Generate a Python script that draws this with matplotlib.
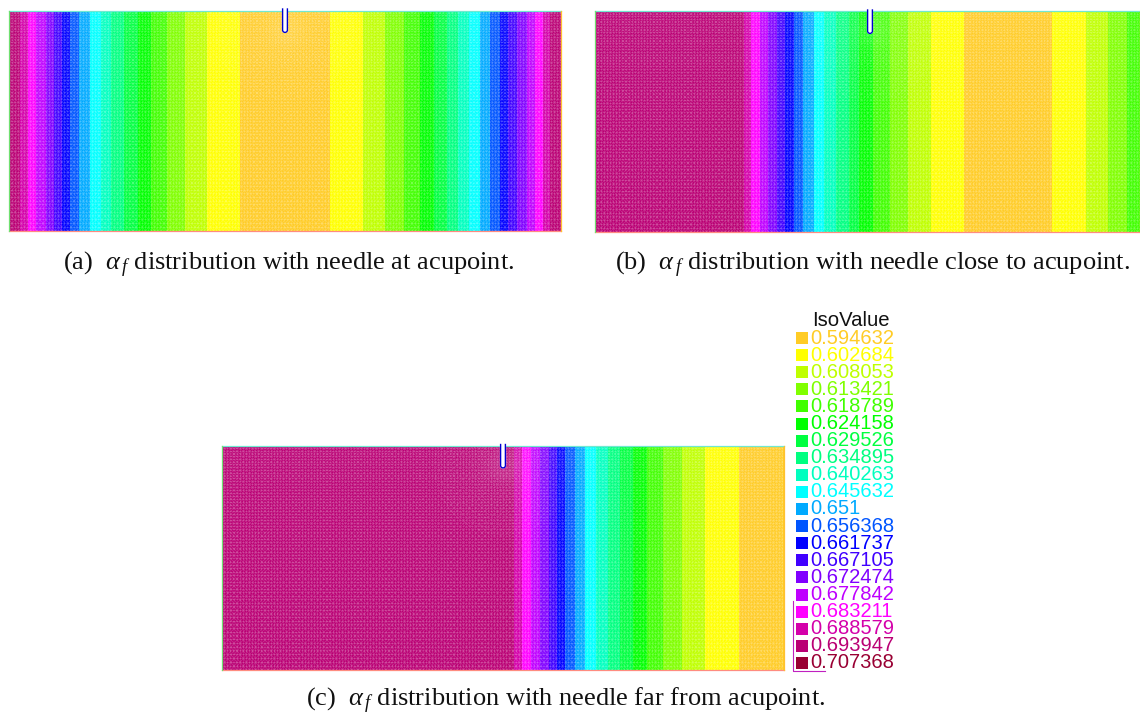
import numpy as np
from matplotlib import pyplot as plt
from matplotlib.colors import ListedColormap
import matplotlib.tri as mtri

plt.rcParams['font.family'] = 'Liberation Sans'
plt.rcParams['mathtext.fontset'] = 'custom'
plt.rcParams['mathtext.rm'] = 'Liberation Serif'
plt.rcParams['mathtext.it'] = 'Liberation Serif:italic'

iso_labels = ['0.594632', '0.602684', '0.608053', '0.613421', '0.618789',
              '0.624158', '0.629526', '0.634895', '0.640263', '0.645632',
              '0.651', '0.656368', '0.661737', '0.667105', '0.672474',
              '0.677842', '0.683211', '0.688579', '0.693947', '0.707368']
iso_colors = ['#ffcc26', '#ffff00', '#bfff00', '#80ff00', '#40ff00',
              '#00ff00', '#00ff40', '#00ff80', '#00ffbf', '#00ffff',
              '#00aaff', '#0055ff', '#0000ff', '#4000ff', '#8000ff',
              '#bf00ff', '#ff00ff', '#d400aa', '#ba0074', '#990033']

# band edges along the domain
edges_a = [9, 20, 28.4, 36.4, 45.5, 53.5, 61.8, 69.8, 79.3, 90.2, 101, 111, 123.6,
           137.5, 151, 166.5, 184.7, 207.3, 240, 329.5, 363, 384.7, 403.6, 420,
           433.5, 446.5, 458, 469, 480, 490, 500, 508.4, 517, 526.5, 534.5,
           542.5, 550, 561]
levels_a = [18, 17, 16, 15, 14, 13, 12, 11, 10, 9, 8, 7, 6, 5, 4, 3, 2, 1, 0,
            1, 2, 3, 4, 5, 6, 7, 8, 9, 10, 11, 12, 13, 14, 15, 16, 17, 18]

edges_b = [595, 744.3, 751.4, 760.2, 768.4, 776.9, 785, 793.8, 803.4, 813.7, 824,
           836.3, 848.7, 859.3, 873.5, 890.1, 908.5, 931.2, 963.8, 1052.3,
           1085.5, 1108.2, 1126.6, 1140]
levels_b = [18, 17, 16, 15, 14, 13, 12, 11, 10, 9, 8, 7, 6, 5, 4, 3, 2, 1, 0,
            1, 2, 3, 4]

edges_c = [221.6, 513.9, 521.6, 531.1, 539.5, 548.7, 556.8, 565.2, 575.1, 585.4,
           596.4, 608.1, 620.2, 633, 647, 663.1, 682.2, 704.9, 738.6, 784.1]
levels_c = [18, 17, 16, 15, 14, 13, 12, 11, 10, 9, 8, 7, 6, 5, 4, 3, 2, 1, 0]

W, H = 1140, 715
fig = plt.figure(figsize=(W / 100, H / 100), dpi=100)
cmap = ListedColormap(iso_colors)


def draw_panel(edges, levels, top, bottom, needle_x):
    x0, x1 = edges[0], edges[-1]
    ax = fig.add_axes([x0 / W, 1 - bottom / H, (x1 - x0) / W, (bottom - top) / H])
    ax.pcolormesh(edges, [top, bottom], np.array([levels]), cmap=cmap, vmin=-0.5, vmax=19.5)

    # the mesh over the field, cells grow towards the bottom
    steps = np.linspace(2.6, 3.8, 69)
    rows = top + np.r_[0, np.cumsum(steps)] * (bottom - top) / steps.sum()
    xs, ys = np.meshgrid(np.arange(x0, x1 + 1, 3.1), rows)
    tri = mtri.Triangulation(xs.ravel(), ys.ravel())
    ax.triplot(tri, color='white', lw=0.3, alpha=0.3)

    # refined fan of elements round the needle tip
    rx, ry = [], []
    r = 2.5
    while r < 70:
        n = max(int(2 * np.pi * r / (r * 0.1 + 0.9)), 3)
        th = np.linspace(0, 2 * np.pi, n, endpoint=False)
        rx.extend(needle_x + r * np.cos(th))
        ry.extend(top + 20 + r * np.sin(th))
        r *= 1.08
    ax.triplot(mtri.Triangulation(rx, ry), color='white', lw=0.22, alpha=0.12)

    ax.set_xlim(x0, x1)
    ax.set_ylim(bottom, top)
    ax.axis('off')

    # border
    ax.plot([x0, x1], [top, top], color='#70e8d0', lw=0.9, clip_on=False)
    ax.plot([x0, x1], [bottom, bottom], color='#ff8c80', lw=0.9, clip_on=False)
    ax.plot([x0, x0], [top, bottom], color='#70e070', lw=0.9, clip_on=False)
    ax.plot([x1, x1], [top, bottom], color='#ffc030', lw=0.9, clip_on=False)

    # needle, open at the top
    t = np.linspace(np.pi, 2 * np.pi, 30)
    nx = np.r_[needle_x - 2.4, needle_x + 2.4 * np.cos(t), needle_x + 2.4]
    ny = np.r_[top - 1.5, top + 19.5 - 2.4 * np.sin(t), top - 1.5]
    ax.fill(nx, ny, color='white', zorder=5, clip_on=False)
    ax.plot(nx, ny, color='#0000d0', lw=1.0, zorder=6, clip_on=False)
    return ax


draw_panel(edges_a, levels_a, 10.5, 231, 285)
draw_panel(edges_b, levels_b, 11.5, 232, 870)
draw_panel(edges_c, levels_c, 446, 670, 503)

# captions
captions = [(289, 265, r'(a)  $\alpha_{\,f}$ distribution with needle at acupoint.'),
            (873, 265, r'(b)  $\alpha_{\,f}$ distribution with needle close to acupoint.'),
            (566, 701, r'(c)  $\alpha_{\,f}$ distribution with needle far from acupoint.')]
for cx, cy, s in captions:
    fig.text(cx / W, 1 - cy / H, s, family='Liberation Serif', fontsize=19,
             ha='center', va='center', color='#111111')

# IsoValue legend
leg = fig.add_axes([0, 0, 1, 1], facecolor='none')
leg.set_xlim(0, W)
leg.set_ylim(H, 0)
leg.axis('off')
leg.text(850.5, 321, 'IsoValue', fontsize=14.6, ha='center', va='center', color='#111111')
for i, (lab, col) in enumerate(zip(iso_labels, iso_colors)):
    yc = 338 + i * 17.1
    leg.fill_between([796, 808], yc - 6, yc + 6, color=col, lw=0)
    leg.text(810.5, yc, lab, fontsize=14.5, color=col, ha='left', va='center')
leg.plot([793, 793, 825], [601, 671, 671], color='#c020c0', lw=0.8)

fig.savefig('out.png', dpi=100)
